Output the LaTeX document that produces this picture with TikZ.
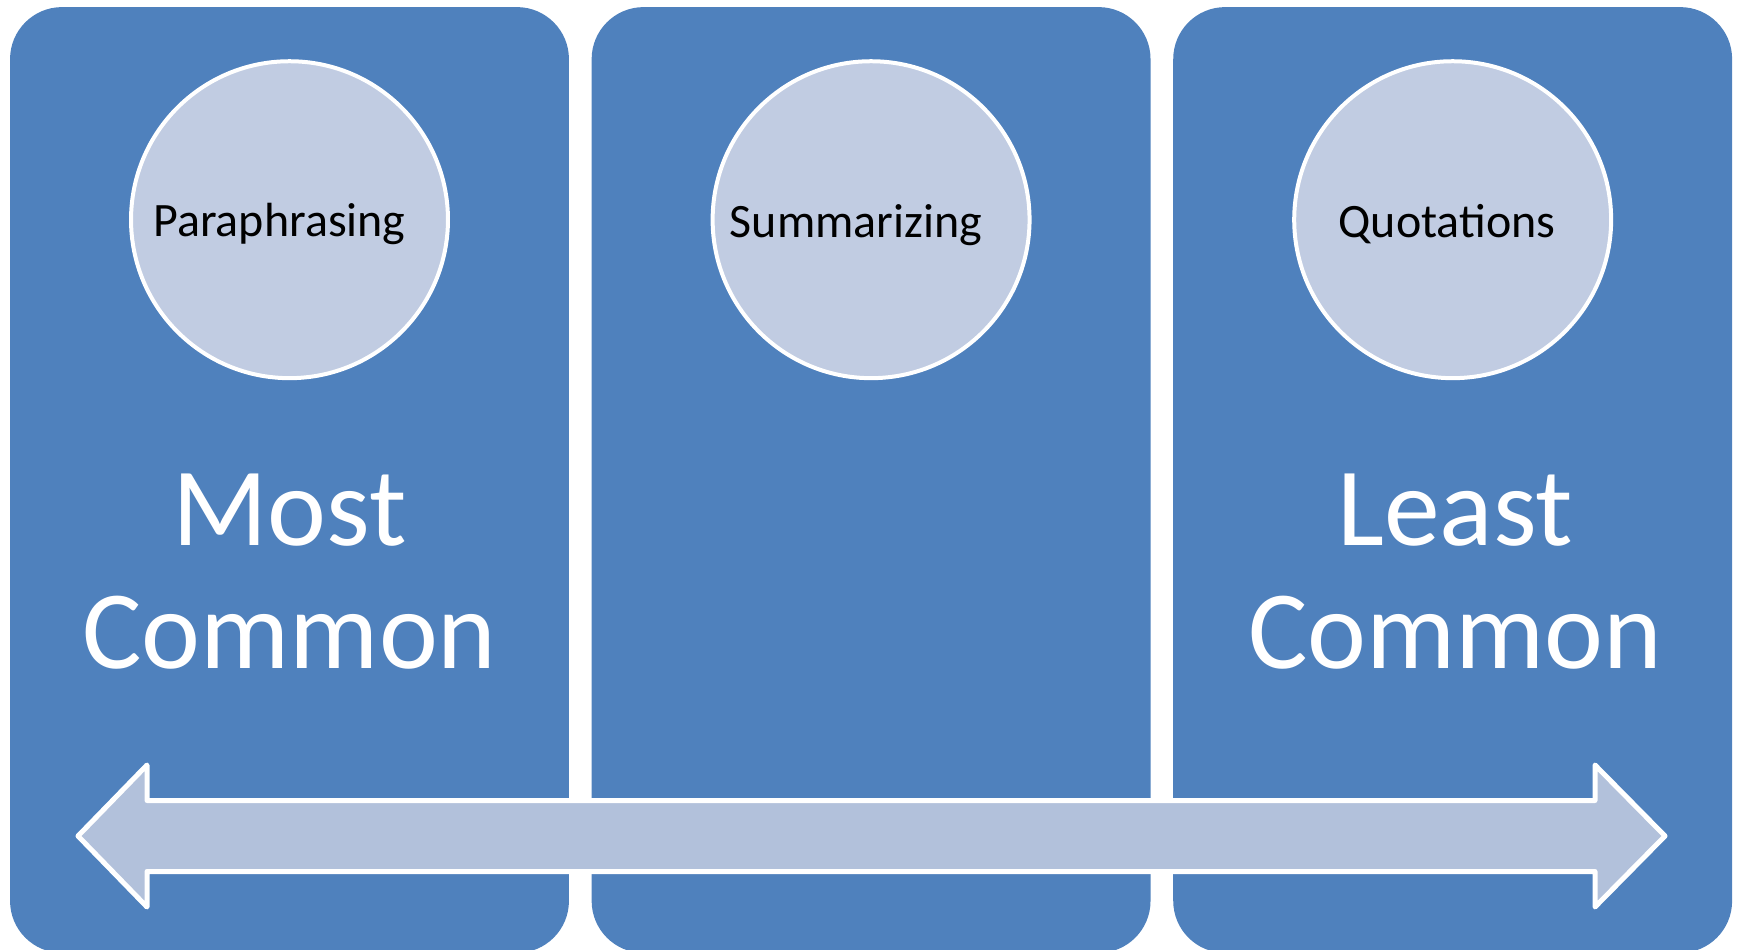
\documentclass[tikz,border=0pt]{standalone}
\usepackage{fontspec}
\setmainfont{Carlito}
\usetikzlibrary{positioning}
\definecolor{panelblue}{RGB}{79,129,189}
\definecolor{bubblefill}{RGB}{193,204,226}
\definecolor{bandfill}{RGB}{178,193,219}

\begin{document}
\begin{tikzpicture}[x=0.02cm, y=-0.02cm]
    \tikzstyle{panel}=[
        fill = panelblue,
        rounded corners = 1.04cm,
        minimum width = 11.18cm,
        minimum height = 18.92cm,
        inner sep = 0pt
    ]
    \tikzstyle{bubble}=[circle, fill=bubblefill, draw=white, line width=0.08cm,
        minimum size=6.34cm, inner sep=0pt]
    \tikzstyle{bubbletext}=[anchor=base, inner sep=0pt, font=\fontsize{27.3}{32}\selectfont]
    \tikzstyle{bigtext}=[align=center, inner sep=0pt, text=white, font=\fontsize{63.5}{70}\selectfont]
    \useasboundingbox (0,0) rectangle (1739,950);
    \begin{scope}[node distance=0.44cm, every node/.style=panel]
      \node (p1) at (289.5,480) {};
      \node (p2) [right=of p1] {};
      \node (p3) [right=of p2] {};
    \end{scope}
    \node[bubble] (c1) at ([yshift=-4.26cm]p1.north) {};
    \node[bubble] (c2) at ([yshift=-4.26cm]p2.north) {};
    \node[bubble] (c3) at ([yshift=-4.26cm]p3.north) {};
    \node[bubbletext] (para) at (279.5,236) {Paraphrasing};
    \node[bubbletext] (summ) at (856,237) {Summarizing};
    \node[bubbletext] (quot) at (1447,237) {Quotations};
    \node[bigtext] (most) at (289.5,572) {Most\\Common};
    \node[bigtext] (least) at (1455,572) {Least\\Common};
    % two-headed band across the panels
    \draw[fill=bandfill, draw=white, line width=0.1cm, line join=round]
        (78,836) -- (147,765) -- (147,800.5) -- (1595,800.5) -- (1595,765)
        -- (1665,836) -- (1595,907) -- (1595,871.5) -- (147,871.5)
        -- (147,907) -- cycle;
\end{tikzpicture}
\end{document}
